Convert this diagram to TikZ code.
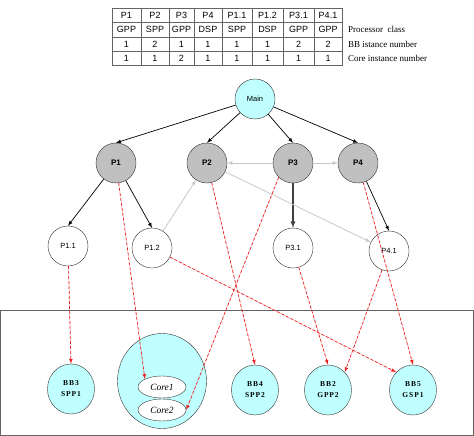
\documentclass[tikz,border=0pt]{standalone}
\usepackage{fontspec}
\setmainfont{Liberation Serif}
\setsansfont{Liberation Sans}
\usepackage{tikz}
\usetikzlibrary{shapes,arrows,positioning}
\definecolor{bbCyan}{RGB}{192,255,255}
\definecolor{procGray}{RGB}{192,192,192}
\definecolor{linkGray}{RGB}{200,200,200}
\definecolor{mapRed}{RGB}{235,35,35}
\definecolor{lineGray}{RGB}{100,100,100}

\begin{document}
\begin{tikzpicture}[
            x=1pt, y=-1pt, >=latex,
            cell/.style={rectangle, draw=lineGray, line width=0.5pt, minimum height=14.4pt, inner sep=0pt, font=\sffamily\fontsize{9}{10}\selectfont},
            lbl/.style={anchor=west, inner sep=0pt, font=\fontsize{9}{10}\selectfont},
            root/.style={circle, draw=black!80, fill=bbCyan, minimum size=40pt, inner sep=0pt, font=\sffamily\fontsize{7.5}{9}\selectfont},
            proc/.style={circle, draw=black!80, fill=procGray, minimum size=40pt, inner sep=0pt, font=\sffamily\bfseries\fontsize{8}{9}\selectfont},
            sub/.style={circle, draw=black!80, fill=white, minimum size=40pt, inner sep=0pt, font=\sffamily\fontsize{7.5}{9}\selectfont},
            bb/.style={ellipse, draw=black!80, fill=bbCyan, minimum width=47pt, minimum height=50pt, inner sep=0pt, align=center, font=\bfseries\fontsize{7.5}{11}\selectfont\addfontfeature{LetterSpace=12}},
            cluster/.style={ellipse, draw=black!80, fill=bbCyan, minimum width=89pt, minimum height=95pt, inner sep=0pt},
            core/.style={ellipse, draw=black!80, fill=white, minimum width=48pt, minimum height=22pt, inner sep=0pt, font=\itshape\fontsize{9.5}{10}\selectfont},
            tree/.style={->, line width=0.7pt},
            link/.style={->, draw=linkGray, line width=0.8pt},
            map/.style={->, draw=mapRed, fill=mapRed, line width=0.7pt, dash pattern=on 3pt off 2pt}
        ]
            \useasboundingbox (0,0) rectangle (474,436);

            % Mapping table
            \foreach \xa/\xb/\pname/\pclass/\bbno/\coreno [count=\i] in {112/141/P1/GPP/1/1, 141/169/P2/SPP/2/1, 169/194/P3/GPP/1/2, 194/222/P4/DSP/1/1, 222/252/P1.1/SPP/1/1, 252/283/P1.2/DSP/1/1, 283/314/P3.1/GPP/2/1, 314/342/P4.1/GPP/2/1} {
                \node[cell, minimum width=\xb pt-\xa pt] (hd\i) at ({(\xa+\xb)/2},15.2) {\pname};
                \node[cell, minimum width=\xb pt-\xa pt] (cls\i) at ({(\xa+\xb)/2},29.6) {\pclass};
                \node[cell, minimum width=\xb pt-\xa pt] (bbn\i) at ({(\xa+\xb)/2},44) {\bbno};
                \node[cell, minimum width=\xb pt-\xa pt] (cor\i) at ({(\xa+\xb)/2},58.4) {\coreno};
            }
            \node[lbl] (lclass) at (348,29.6) {Processor\ \ class};
            \node[lbl] (lbb) at (348,44) {BB istance number};
            \node[lbl] (lcore) at (348,58.4) {Core instance number};

            % Process tree
            \node[root] (main) at (255,99) {Main};
            \node[proc] (p1) at (116,163) {P1};
            \node[proc] (p2) at (207,163) {P2};
            \node[proc] (p3) at (293,163) {P3};
            \node[proc] (p4) at (358,163) {P4};
            \node[sub] (p11) at (68,246) {P1.1};
            \node[sub] (p12) at (152,248) {P1.2};
            \node[sub] (p31) at (293,248) {P3.1};
            \node[sub] (p41) at (389,251) {P4.1};

            % Platform
            \draw[lineGray, line width=0.9pt] (0.5,310) rectangle (473,435);
            \node[bb] (bb3) at (71,389) {BB3\\SPP1};
            \node[cluster] (bb1) at (162,381) {};
            \node[core] (core1) at (162,387) {Core1};
            \node[core] (core2) at (162,410) {Core2};
            \node[bb] (bb4) at (255,390) {BB4\\SPP2};
            \node[bb] (bb2) at (328,390) {BB2\\GPP2};
            \node[bb] (bb5) at (413,390) {BB5\\GSP1};

            \draw[tree] (main) -- (p1.north);
            \draw[tree] (main) -- (p2.north);
            \draw[tree] (main) -- (p3.north);
            \draw[tree] (main) -- (p4.north);
            \draw[tree] (p1) -- (p11.north);
            \draw[tree] (p1) -- (p12.north);
            \draw[tree, draw=black!75, line width=1.2pt] (p3) -- (p31.north);
            \draw[tree] (p4) -- (p41.north);

            \draw[link] (p3) -- (p2);
            \draw[link] (p3) -- (p4);
            \draw[link] (p12) -- (p2);
            \draw[link] (p2) -- (p41);

            \draw[map] (p11) -- (bb3.north);
            \draw[map] (p1) -- (core1.north west);
            \draw[map] (p3.south west) -- (core2.east);
            \draw[map] (p2) -- (bb4.north);
            \draw[map] (p12) -- (bb5.north west);
            \draw[map] (p31) -- (bb2.north);
            \draw[map] (p41) -- (bb2.north east);
            \draw[map] (p4) -- (bb5.north);
        \end{tikzpicture}
\end{document}
